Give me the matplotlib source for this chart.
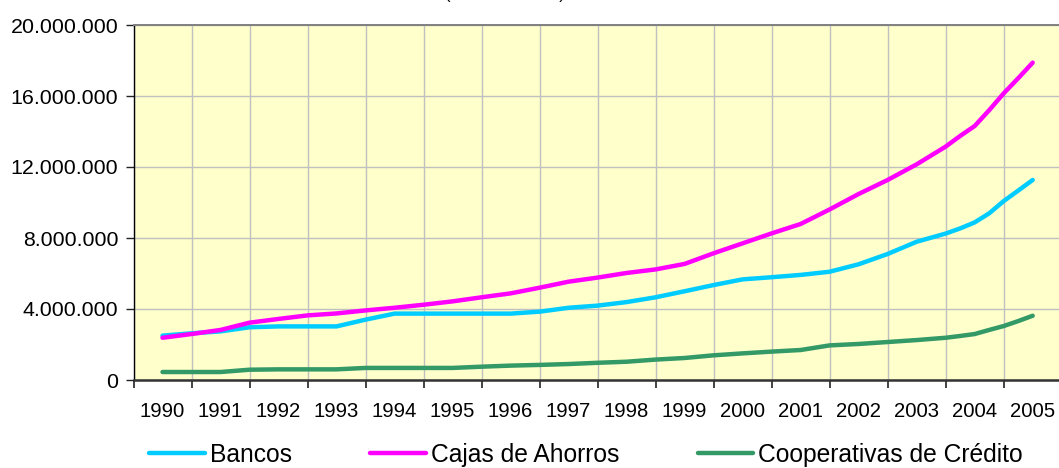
#!/usr/bin/env python3
"""Evolution of deposits by type of entity, 1990-2005."""

from __future__ import annotations

import matplotlib

matplotlib.use("Agg")
import matplotlib.pyplot as plt
from matplotlib.ticker import FuncFormatter, MultipleLocator

# half-yearly periods, quarterly for the last two years
periods = [
    1990.0, 1990.5, 1991.0, 1991.5, 1992.0, 1992.5, 1993.0, 1993.5,
    1994.0, 1994.5, 1995.0, 1995.5, 1996.0, 1996.5, 1997.0, 1997.5,
    1998.0, 1998.5, 1999.0, 1999.5, 2000.0, 2000.5, 2001.0, 2001.5,
    2002.0, 2002.5, 2003.0, 2003.5, 2003.75, 2004.0, 2004.25, 2004.5,
    2004.75, 2005.0,
]

# values in millions
bancos = [
    2.50, 2.63, 2.74, 2.97, 3.02, 3.02, 3.02, 3.40,
    3.74, 3.74, 3.74, 3.74, 3.74, 3.85, 4.07, 4.19,
    4.39, 4.66, 5.00, 5.35, 5.67, 5.79, 5.92, 6.10,
    6.52, 7.10, 7.79, 8.25, 8.54, 8.88, 9.39, 10.08,
    10.67, 11.27,
]
cajas = [
    2.38, 2.59, 2.82, 3.23, 3.44, 3.64, 3.75, 3.92,
    4.07, 4.24, 4.43, 4.66, 4.88, 5.20, 5.54, 5.77,
    6.03, 6.23, 6.54, 7.14, 7.70, 8.26, 8.79, 9.61,
    10.48, 11.27, 12.15, 13.15, 13.75, 14.31, 15.20, 16.15,
    17.00, 17.88,
]
cooperativas = [
    0.45, 0.45, 0.45, 0.58, 0.60, 0.60, 0.60, 0.68,
    0.68, 0.68, 0.68, 0.75, 0.81, 0.85, 0.90, 0.97,
    1.03, 1.15, 1.24, 1.39, 1.50, 1.60, 1.69, 1.95,
    2.03, 2.14, 2.25, 2.38, 2.48, 2.59, 2.82, 3.04,
    3.32, 3.62,
]

years = list(range(1990, 2006))
series_names = ["Bancos", "Cajas de Ahorros", "Cooperativas de Crédito"]
title = "(miles de euros)"


def thousands(v, _pos):
    return f"{int(round(v)):,}".replace(",", ".")


def main() -> None:
    plt.rcParams.update({
        "font.family": ["Liberation Sans", "DejaVu Sans"],
        "font.size": 14.6,
    })
    fig = plt.figure(figsize=(10.59, 4.68), dpi=100)
    ax = fig.add_axes([133.5 / 1059, 1 - 380 / 468, (1061.7 - 133.5) / 1059, 355 / 468])
    ax.set_facecolor("#FFFFCC")

    colors = ["#00CCFF", "#FF00FF", "#339966"]
    for name, vals, c in zip(series_names, [bancos, cajas, cooperativas], colors):
        ax.plot(periods, [v * 1e6 for v in vals], color=c, linewidth=3.2,
                solid_capstyle="round", solid_joinstyle="round", label=name, zorder=3)

    ax.set_xlim(1989.5, 2005.5)
    ax.set_ylim(0, 20e6)
    ax.yaxis.set_major_locator(MultipleLocator(4e6))
    ax.yaxis.set_major_formatter(FuncFormatter(thousands))

    ax.set_xticks([y - 0.5 for y in years] + [2005.5])
    ax.set_xticklabels([])
    ax.set_xticks(years, minor=True)
    ax.set_xticklabels([str(y) for y in years], minor=True)
    ax.tick_params(axis="x", which="minor", length=0, pad=16, labelsize=14.6)
    ax.tick_params(axis="x", which="major", length=6, width=1.2, color="#222222")
    ax.tick_params(axis="y", length=6, width=1.0, pad=5, color="#222222", labelsize=15.4)

    ax.grid(True, which="major", color="#C0C0C0", linewidth=1.0)
    ax.set_axisbelow(True)
    for side in ["top", "right"]:
        ax.spines[side].set_color("#808080")
        ax.spines[side].set_linewidth(1.4)
    ax.spines["left"].set_color("#000000")
    ax.spines["left"].set_linewidth(1.0)
    ax.spines["bottom"].set_color("#333333")
    ax.spines["bottom"].set_linewidth(1.8)

    fig.legend(loc="center", bbox_to_anchor=(586 / 1059, 1 - 455 / 468), ncol=3,
               frameon=False, fontsize=17.7, handlelength=2.25, handletextpad=0.2,
               columnspacing=3.2, borderpad=0, borderaxespad=0)

    # the title sits above the visible area; only its lowest part shows
    fig.text(505 / 1059, 1 + 1.5 / 468, title, ha="center", va="baseline", fontsize=12)

    fig.savefig("out.png", dpi=100)


if __name__ == "__main__":
    main()
